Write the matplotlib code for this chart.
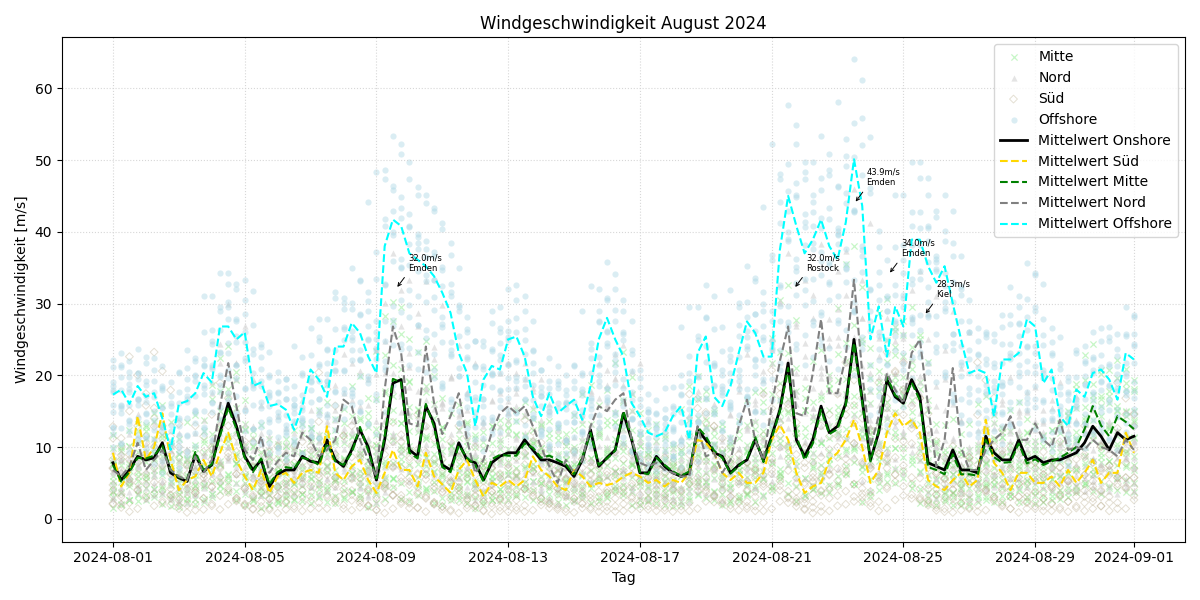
import numpy as np
import pandas as pd
import matplotlib
matplotlib.use("Agg")
import matplotlib.pyplot as plt
import matplotlib.dates as mdates

# 6-hourly regional means, 2024-08-01 00:00 .. 2024-09-01 00:00
offshore_mean = [
    17.3, 18.0, 16.0, 18.5, 17.0, 17.5, 14.0, 9.6, 16.0, 16.4, 17.5, 20.3,
    19.0, 26.8, 26.8, 25.0, 26.0, 18.5, 19.0, 15.7, 16.0, 15.2, 12.4, 15.7,
    20.8, 19.4, 17.0, 24.0, 24.0, 27.3, 25.9, 22.6, 20.3, 38.0, 41.7, 40.8,
    37.0, 36.1, 35.2, 33.8, 31.5, 28.7, 23.1, 20.3, 12.9, 19.4, 21.3, 20.8,
    25.0, 25.4, 22.6, 17.0, 14.3, 17.5, 14.7, 15.7, 16.6, 13.8, 18.5, 25.0,
    28.0, 25.0, 22.6, 16.1, 14.3, 12.0, 11.5, 12.0, 14.3, 15.7, 11.0, 23.1,
    25.4, 17.0, 15.7, 18.5, 23.1, 27.5, 25.9, 22.6, 22.6, 37.5, 45.0, 40.8,
    37.0, 38.9, 41.7, 38.0, 36.1, 41.3, 50.1, 43.6, 25.0, 29.6, 22.6, 29.6,
    26.8, 38.9, 38.9, 35.2, 32.9, 35.2, 30.0, 25.0, 20.3, 20.8, 20.3, 14.3,
    22.2, 22.2, 23.1, 27.8, 26.8, 18.9, 20.8, 14.3, 12.9, 18.0, 17.0, 20.3,
    20.8, 19.4, 16.6, 23.1, 22.2]
onshore_mean = [
    7.8, 5.4, 6.8, 8.7, 8.2, 8.5, 10.6, 6.4, 5.7, 5.2, 8.9, 6.6,
    7.5, 12.0, 16.1, 12.9, 8.7, 6.8, 8.2, 4.5, 6.2, 6.8, 6.8, 8.7,
    8.0, 7.8, 11.0, 8.2, 7.3, 9.6, 12.4, 10.0, 5.4, 11.0, 18.9, 19.4,
    9.6, 8.7, 15.7, 13.3, 7.5, 6.8, 10.6, 8.2, 7.8, 5.4, 7.8, 8.7,
    9.2, 9.2, 11.0, 9.6, 8.2, 8.2, 7.8, 7.3, 5.9, 8.2, 12.4, 7.3,
    8.5, 9.6, 14.7, 11.0, 6.4, 6.4, 8.7, 7.3, 6.4, 5.9, 6.4, 12.4,
    11.0, 9.2, 8.7, 6.4, 7.5, 8.2, 11.0, 8.2, 11.5, 15.2, 21.7, 11.0,
    8.7, 11.0, 15.7, 12.0, 12.9, 16.1, 25.0, 16.6, 8.2, 12.0, 19.4, 17.0,
    16.1, 19.4, 17.0, 7.8, 7.3, 6.8, 9.6, 6.8, 6.8, 6.4, 11.5, 9.2,
    8.2, 8.2, 11.0, 8.2, 8.7, 7.8, 8.2, 8.2, 8.7, 9.2, 10.6, 12.9,
    11.5, 9.6, 12.0, 11.0, 11.5]
sued_mean = [
    9.2, 4.5, 6.4, 14.3, 8.2, 10.0, 14.7, 8.2, 4.0, 5.4, 5.9, 8.2,
    5.9, 9.2, 12.0, 8.2, 5.9, 4.0, 6.8, 3.6, 5.9, 6.4, 5.0, 6.4,
    6.8, 6.4, 12.9, 6.4, 5.4, 7.3, 8.2, 5.4, 3.6, 6.4, 9.6, 6.8,
    6.8, 4.5, 9.2, 5.9, 4.8, 3.6, 6.8, 8.2, 5.4, 3.1, 5.0, 4.5,
    5.4, 4.5, 5.4, 8.7, 6.8, 5.9, 4.5, 4.0, 6.8, 5.9, 4.5, 5.0,
    4.7, 5.0, 5.9, 6.4, 5.9, 5.0, 5.4, 4.5, 5.4, 5.0, 6.4, 11.0,
    10.6, 9.2, 6.4, 5.4, 6.4, 5.0, 5.0, 6.4, 11.0, 13.1, 11.0, 6.4,
    3.6, 4.5, 5.0, 8.2, 9.2, 11.0, 13.8, 10.0, 5.0, 6.8, 12.0, 14.7,
    12.9, 13.8, 12.0, 5.4, 4.5, 4.0, 5.4, 6.4, 4.5, 5.4, 13.8, 7.8,
    6.4, 4.0, 6.4, 6.4, 5.0, 5.0, 5.9, 4.5, 6.8, 5.0, 6.4, 8.2,
    5.0, 6.4, 6.4, 12.0, 9.2]
mitte_mean = [
    7.5, 5.2, 6.5, 8.5, 8.4, 8.8, 10.2, 6.8, 5.8, 5.5, 9.3, 6.8,
    7.6, 11.5, 15.5, 12.5, 8.5, 6.5, 8.4, 4.8, 6.5, 7.2, 7.0, 8.5,
    8.2, 7.5, 10.5, 8.0, 7.5, 9.2, 12.8, 9.5, 5.6, 11.5, 19.5, 19.0,
    9.2, 8.4, 16.0, 12.8, 7.2, 6.5, 10.2, 8.5, 7.5, 5.2, 8.3, 8.9,
    8.8, 8.8, 10.5, 9.9, 8.5, 8.8, 8.2, 7.6, 6.2, 8.5, 12.0, 7.5,
    8.4, 9.5, 15.0, 11.2, 6.5, 6.2, 8.5, 7.5, 6.6, 6.0, 6.6, 12.8,
    11.5, 9.5, 8.5, 6.3, 7.3, 8.4, 11.4, 7.9, 11.2, 15.0, 21.0, 11.5,
    8.2, 10.5, 15.2, 11.8, 12.5, 15.8, 24.5, 16.2, 8.0, 12.3, 19.8, 17.2,
    16.5, 19.0, 16.5, 7.2, 6.8, 6.2, 9.0, 6.2, 6.2, 6.0, 11.0, 8.6,
    7.8, 7.9, 10.5, 7.7, 8.3, 7.5, 8.0, 8.5, 9.2, 10.0, 12.5, 15.7,
    13.0, 11.5, 14.3, 13.5, 12.5]
nord_mean = [
    6.8, 5.9, 7.3, 10.6, 6.8, 8.2, 9.6, 6.8, 5.9, 5.4, 8.7, 6.4,
    8.2, 15.7, 21.7, 15.7, 9.6, 8.2, 11.5, 6.4, 8.0, 9.2, 8.7, 12.0,
    11.0, 8.7, 9.6, 11.0, 16.6, 15.7, 11.0, 8.2, 5.9, 18.0, 26.8, 23.1,
    13.3, 12.9, 24.0, 16.1, 11.8, 14.3, 17.5, 11.0, 6.4, 8.2, 12.0, 14.7,
    15.7, 14.7, 15.7, 12.9, 10.0, 7.3, 5.0, 8.2, 6.4, 8.2, 12.9, 15.7,
    15.0, 16.6, 17.5, 11.0, 7.8, 7.3, 7.8, 6.8, 6.4, 5.9, 5.9, 12.9,
    8.7, 9.2, 6.4, 8.2, 12.9, 16.6, 11.0, 8.2, 15.7, 22.0, 26.8, 14.7,
    14.3, 20.3, 27.8, 17.5, 17.5, 22.6, 33.3, 20.3, 10.0, 14.3, 20.3, 18.0,
    16.1, 23.1, 25.0, 15.7, 7.3, 11.0, 21.0, 10.0, 6.8, 6.8, 9.6, 11.0,
    12.0, 14.3, 11.0, 11.0, 13.3, 11.0, 10.0, 13.8, 9.6, 10.0, 9.6, 11.0,
    10.0, 9.6, 8.7, 11.0, 9.6]

# station profiles (ratio to regional mean, time shift in 6h steps)
offshore_factors = [0.58, 0.66, 0.73, 0.80, 0.86, 0.92, 0.98, 1.04, 1.10, 1.16, 1.22, 1.28]
offshore_lags = [0, 1, -1, 2, 0, -2, 1, -1, 0, 2, -1, 0]
mitte_factors = [0.30, 0.40, 0.50, 0.60, 0.70, 0.80, 0.90, 1.00, 1.10, 1.20, 1.32, 1.45, 1.55]
mitte_lags = [1, 0, -1, 2, 0, -2, 1, -1, 0, 2, -1, 1, 0]
nord_factors = [0.40, 0.52, 0.64, 0.76, 0.88, 1.00, 1.12, 1.24, 1.38]
nord_lags = [0, 1, -1, 0, 2, -1, 1, -2, 0]
sued_factors = [0.22, 0.35, 0.48, 0.62, 0.76, 0.90, 1.05, 1.22, 1.40, 1.58]
sued_lags = [-1, 0, 1, 2, 0, -2, 1, -1, 0, 1]

# annotated maxima
ann_times = ["2024-08-09 14:00", "2024-08-21 16:00", "2024-08-23 12:00",
             "2024-08-24 13:00", "2024-08-25 15:00"]
ann_values = [32.0, 32.0, 43.9, 34.0, 28.3]
ann_stations = ["Emden", "Rostock", "Emden", "Emden", "Kiel"]

times = pd.date_range("2024-08-01 00:00", "2024-09-01 00:00", freq="6h")
n = len(times)


def station_cloud(mean, factors, lags):
    mean = np.asarray(mean)
    xs, ys = [], []
    idx = np.arange(n)
    for f, lag in zip(factors, lags):
        j = np.clip(idx + lag, 0, n - 1)
        xs.append(np.asarray(times))
        ys.append(mean[j] * f)
    return np.concatenate(xs), np.concatenate(ys)


fig, ax = plt.subplots(figsize=(12, 6), dpi=100)

x, y = station_cloud(mitte_mean, mitte_factors, mitte_lags)
ax.scatter(x, y, marker="x", s=20, color="lightgreen", alpha=0.5,
           linewidths=0.9, label="Mitte")
x, y = station_cloud(nord_mean, nord_factors, nord_lags)
ax.scatter(x, y, marker="^", s=20, color="lightgray", alpha=0.6,
           linewidths=0, label="Nord")
x, y = station_cloud(sued_mean, sued_factors, sued_lags)
ax.scatter(x, y, marker="D", s=16, facecolors="none", edgecolors="#b3a683",
           alpha=0.35, linewidths=0.7, label="Süd")
x, y = station_cloud(offshore_mean, offshore_factors, offshore_lags)
ax.scatter(x, y, marker="o", s=20, color="lightblue", alpha=0.45,
           linewidths=0, label="Offshore")

ax.plot(times, onshore_mean, color="black", lw=2, label="Mittelwert Onshore")
ax.plot(times, sued_mean, color="gold", lw=1.5, ls="--", label="Mittelwert Süd")
ax.plot(times, mitte_mean, color="green", lw=1.5, ls="--", label="Mittelwert Mitte")
ax.plot(times, nord_mean, color="gray", lw=1.5, ls="--", label="Mittelwert Nord")
ax.plot(times, offshore_mean, color="cyan", lw=1.5, ls="--", label="Mittelwert Offshore")

for t, v, s in zip(ann_times, ann_values, ann_stations):
    ax.annotate(f"{v:.1f}m/s\n{s}", xy=(pd.Timestamp(t), v), xytext=(9, 12),
                textcoords="offset points", fontsize=6, ha="left", va="bottom",
                arrowprops=dict(arrowstyle="->", color="black", lw=0.7,
                                relpos=(0, 0)))

ax.set_ylim(-3.2, 67.1)
ax.xaxis.set_major_locator(mdates.DayLocator(bymonthday=[1, 5, 9, 13, 17, 21, 25, 29]))
ax.xaxis.set_major_formatter(mdates.DateFormatter("%Y-%m-%d"))
ax.grid(True, ls=":", color="lightgray", alpha=0.9)
ax.set_title("Windgeschwindigkeit August 2024")
ax.set_xlabel("Tag")
ax.set_ylabel("Windgeschwindigkeit [m/s]")
ax.legend(loc="upper right")
fig.tight_layout()
fig.savefig("out.png", dpi=100)
